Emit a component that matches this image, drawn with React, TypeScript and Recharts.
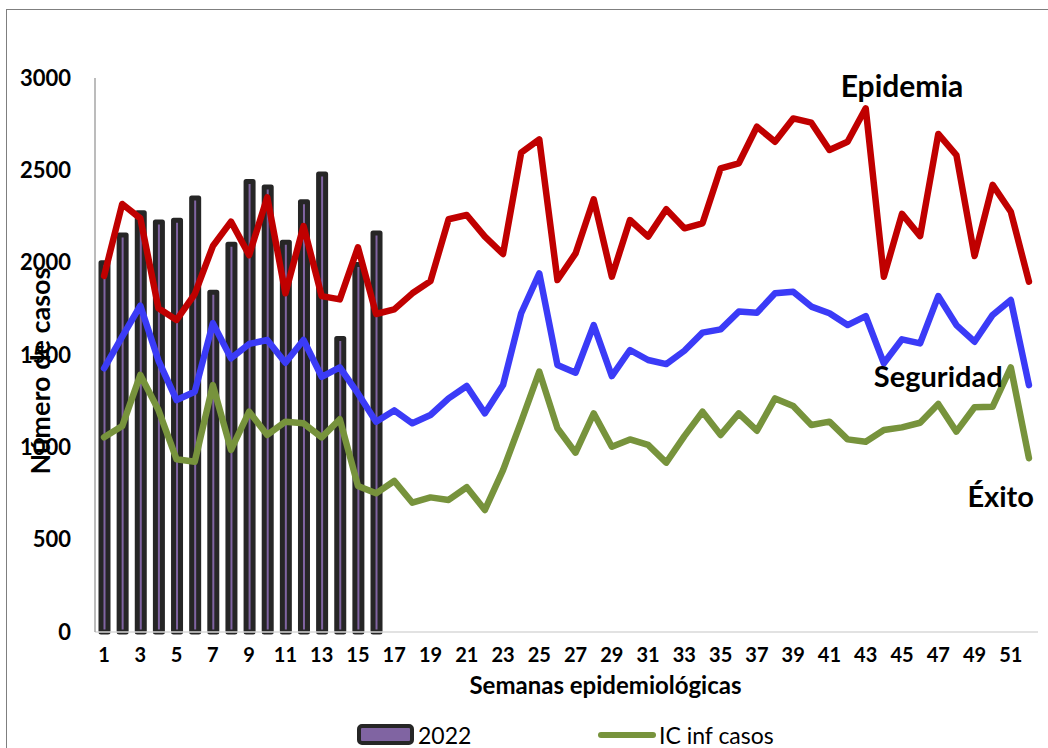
import React from 'react';
import { ComposedChart, Bar, Line, XAxis, YAxis, Legend, ReferenceDot } from 'recharts';

const weeks = ['1','2','3','4','5','6','7','8','9','10','11','12','13','14','15','16','17','18','19','20','21','22','23','24','25','26','27','28','29','30','31','32','33','34','35','36','37','38','39','40','41','42','43','44','45','46','47','48','49','50','51','52'];

const cases2022 = [2000, 2150, 2270, 2220, 2230, 2350, 1840, 2100, 2440, 2410, 2110, 2330, 2480, 1590, 1990, 2160];

const epidemia = [1928, 2318, 2240, 1753, 1690, 1830, 2090, 2222, 2041, 2354, 1834, 2198, 1819, 1801, 2083, 1722, 1747, 1834, 1900, 2235, 2258, 2141, 2047, 2596, 2668, 1906, 2050, 2343, 1924, 2231, 2141, 2289, 2186, 2213, 2511, 2538, 2736, 2655, 2781, 2758, 2610, 2655, 2836, 1924, 2264, 2144, 2697, 2583, 2036, 2421, 2276, 1897];

const seguridad = [1428, 1599, 1767, 1470, 1256, 1301, 1672, 1482, 1560, 1581, 1458, 1581, 1382, 1433, 1292, 1139, 1200, 1130, 1175, 1265, 1332, 1184, 1337, 1726, 1942, 1446, 1404, 1662, 1386, 1527, 1473, 1451, 1523, 1621, 1639, 1735, 1729, 1834, 1843, 1762, 1726, 1662, 1711, 1455, 1585, 1563, 1819, 1662, 1572, 1717, 1798, 1337];

const exito = [1054, 1115, 1392, 1202, 935, 922, 1337, 986, 1193, 1067, 1139, 1130, 1054, 1152, 791, 751, 818, 700, 729, 715, 784, 661, 877, 1139, 1410, 1103, 971, 1184, 1003, 1043, 1013, 917, 1061, 1193, 1067, 1184, 1090, 1265, 1224, 1121, 1139, 1043, 1030, 1094, 1108, 1133, 1235, 1085, 1217, 1220, 1433, 941];

const yTicks = [0, 500, 1000, 1500, 2000, 2500, 3000];

const data = weeks.map((w, i) => ({
  week: w,
  c2022: i < cases2022.length ? cases2022[i] : null,
  epidemia: epidemia[i],
  seguridad: seguridad[i],
  exito: exito[i],
}));

const FONT = 'Lato, "Open Sans", sans-serif';

const AnnotText = (props: any) => {
  const { viewBox, text, dx = 0, size = 29 } = props;
  if (!viewBox) return null;
  return (
    <text x={viewBox.x + dx} y={viewBox.y} textAnchor="middle" fontFamily={FONT} fontWeight={700} fontSize={size} fill="#000">
      {text}
    </text>
  );
};

const YLabel = (props: any) => {
  const { viewBox } = props;
  if (!viewBox) return null;
  const x = viewBox.x + 39;
  const y = viewBox.y + viewBox.height / 2 + 16;
  return (
    <text x={x} y={y} transform={`rotate(-90, ${x}, ${y})`} textAnchor="middle" dominantBaseline="central" fontFamily={FONT} fontWeight={700} fontSize={27} fill="#000">
      Número de casos
    </text>
  );
};

const XLabel = (props: any) => {
  const { viewBox } = props;
  if (!viewBox) return null;
  const x = viewBox.x + viewBox.width / 2 + 39;
  const y = viewBox.y + 62;
  return (
    <text x={x} y={y} textAnchor="middle" fontFamily={FONT} fontWeight={700} fontSize={24} fill="#000">
      Semanas epidemiológicas
    </text>
  );
};

const LegendBox = () => (
  <div style={{ position: 'relative', width: 500, height: 26, fontFamily: FONT, fontSize: 23, color: '#000' }}>
    <div style={{ position: 'absolute', left: 0, top: 0, height: 26, display: 'flex', alignItems: 'center' }}>
      <svg width={58} height={22} style={{ display: 'block' }}>
        <rect x={2} y={2} width={53} height={17} rx={3} fill="#8064A2" stroke="#262626" strokeWidth={4} />
      </svg>
      <span style={{ marginLeft: 3, lineHeight: '26px' }}>2022</span>
    </div>
    <div style={{ position: 'absolute', left: 241, top: 0, height: 26, display: 'flex', alignItems: 'center' }}>
      <svg width={58} height={22} style={{ display: 'block' }}>
        <line x1={3} y1={11} x2={55} y2={11} stroke="#77933C" strokeWidth={6} strokeLinecap="round" />
      </svg>
      <span style={{ marginLeft: 3, lineHeight: '26px' }}>IC inf casos</span>
    </div>
  </div>
);

export default function App() {
  return (
    <div style={{ position: 'absolute', left: 0, top: 0, width: 1048, height: 748, background: '#fff', overflow: 'hidden' }}>
      <div style={{ position: 'absolute', left: 6, top: 9, width: 1042, height: 739, borderLeft: '1px solid #7f7f7f', borderTop: '1px solid #7f7f7f', boxSizing: 'border-box' }} />
      <div style={{ position: 'absolute', left: 0, top: 0 }}>
        <ComposedChart width={1048} height={748} data={data} margin={{ top: 78, right: 10, left: 0, bottom: 0 }} barCategoryGap={0}>
          <XAxis
            dataKey="week"
            type="category"
            interval={1}
            height={116}
            tickLine={false}
            tickSize={0}
            tickMargin={16}
            axisLine={{ stroke: '#D9D9D9', strokeWidth: 1.5 }}
            tick={{ fontFamily: FONT, fontWeight: 700, fontSize: 20, fill: '#000' }}
            label={<XLabel />}
          />
          <YAxis
            type="number"
            domain={[0, 3000]}
            ticks={yTicks}
            width={95}
            tickLine={false}
            tickSize={0}
            tickMargin={24}
            axisLine={{ stroke: '#A6A6A6', strokeWidth: 1.5 }}
            tick={{ fontFamily: FONT, fontWeight: 700, fontSize: 22, fill: '#000' }}
            label={<YLabel />}
          />
          <Legend verticalAlign="middle" wrapperStyle={{ position: 'absolute', left: 357, top: 722, width: 500, height: 26 }} content={() => <LegendBox />} />
          <Bar dataKey="c2022" name="2022" barSize={7} fill="#8064A2" stroke="#262626" strokeWidth={5} strokeLinejoin="round" isAnimationActive={false} />
          <Line dataKey="epidemia" name="Epidemia" stroke="#C00000" strokeWidth={6.5} dot={false} strokeLinejoin="round" strokeLinecap="round" isAnimationActive={false} />
          <Line dataKey="seguridad" name="Seguridad" stroke="#3B3BF7" strokeWidth={6.5} dot={false} strokeLinejoin="round" strokeLinecap="round" isAnimationActive={false} />
          <Line dataKey="exito" name="IC inf casos" stroke="#77933C" strokeWidth={6.5} dot={false} strokeLinejoin="round" strokeLinecap="round" isAnimationActive={false} />
          <ReferenceDot x="45" y={2899} r={0} fill="none" stroke="none" label={<AnnotText text="Epidemia" size={30} />} />
          <ReferenceDot x="47" y={1328} r={0} fill="none" stroke="none" label={<AnnotText text="Seguridad" />} />
          <ReferenceDot x="50" y={678} r={0} fill="none" stroke="none" label={<AnnotText text="Éxito" dx={8} />} />
        </ComposedChart>
      </div>
    </div>
  );
}
